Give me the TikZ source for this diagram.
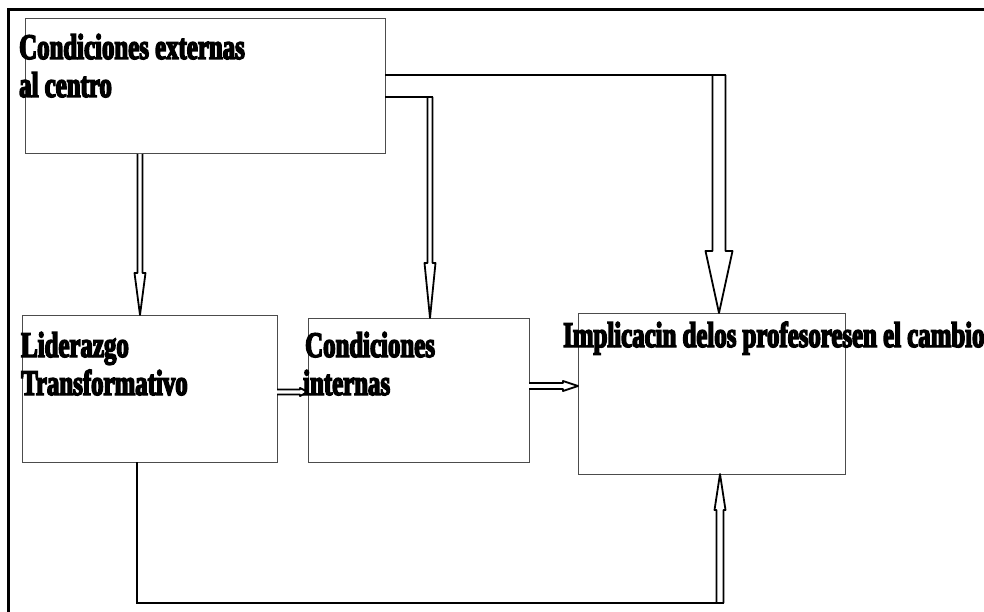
\documentclass[tikz,border=0pt]{standalone}
\usepackage{fontspec}
\newfontfamily\lbf{Liberation Serif}[UprightFont=* Bold, FakeStretch=0.69, FakeBold=4]
\usetikzlibrary{calc}
% block-arrow outlines, computed from named points
\newcommand\downarr[5]{\path[blk] let \p1=#1, \p2=#2 in
  (\x1-#3,\y1) -- (\x1-#3,\y2+#5) -- (\x1-#4,\y2+#5) -- (\x1,\y2) -- (\x1+#4,\y2+#5) -- (\x1+#3,\y2+#5) -- (\x1+#3,\y1);}
\newcommand\uparr[5]{\path[blk] let \p1=#1, \p2=#2 in
  (\x1-#3,\y1) -- (\x1-#3,\y2-#5) -- (\x1-#4,\y2-#5) -- (\x1,\y2) -- (\x1+#4,\y2-#5) -- (\x1+#3,\y2-#5) -- (\x1+#3,\y1);}
\newcommand\rightarr[5]{\path[blk] let \p1=#1, \p2=#2 in
  (\x1,\y1+#3) -- (\x2-#5,\y1+#3) -- (\x2-#5,\y1+#4) -- (\x2,\y1) -- (\x2-#5,\y1-#4) -- (\x2-#5,\y1-#3) -- (\x1,\y1-#3);}
\begin{document}
\begin{tikzpicture}[x=1pt,y=-1pt,
  box/.style={draw=black!70, line width=1pt, inner sep=0pt, outer sep=0pt, anchor=north west},
  lbl/.style={font=\lbf\fontsize{36}{39}\selectfont, inner sep=0pt, anchor=base west},
  conn/.style={draw=black, line width=2.5pt},
  blk/.style={draw=black, line width=1.8pt, line join=round, fill=white},
  frame/.style={draw=black, line width=3pt}]
\useasboundingbox (0,0) rectangle (984,612);
\draw[frame] (984,10) -- (8,10) -- (8,612);

% boxes
\node[box, minimum width=360pt, minimum height=135pt] (b1) at (25,19) {};
\node[box, minimum width=255pt, minimum height=147pt] (b2) at (22,315) {};
\node[box, minimum width=221pt, minimum height=144pt] (b3) at (308,318) {};
\node[box, minimum width=267pt, minimum height=161pt] (b4) at (578,313) {};

% guide coordinates
\coordinate (xa1) at (140,0);
\coordinate (xa2) at (430,0);
\coordinate (xa3) at (719,0);
\coordinate (xa6l) at (137,0);
\coordinate (xa6r) at (720,0);
\coordinate (ya2) at (0,97);
\coordinate (ya3) at (0,75);
\coordinate (ya4) at (0,392);
\coordinate (ya5) at (0,386);
\coordinate (ya6) at (0,603);

% Condiciones externas -> Liderazgo
\downarr{(b1.south -| xa1)}{(b2.north -| xa1)}{2.5pt}{5.5pt}{42pt}
% Condiciones externas -> Condiciones internas
\downarr{(ya2 -| xa2)}{(b3.north -| xa2)}{2.5pt}{5.5pt}{55pt}
\draw[conn] (b1.east |- ya2) -- ($(ya2 -| xa2)+(3.3,0)$);
% Condiciones externas -> Implicacion
\downarr{(ya3 -| xa3)}{(b4.north -| xa3)}{6.5pt}{13.5pt}{62pt}
\draw[conn] (b1.east |- ya3) -- ($(ya3 -| xa3)+(7.3,0)$);
% Liderazgo -> Condiciones internas
\rightarr{(b2.east |- ya4)}{(b3.west |- ya4)}{2.5pt}{4pt}{8pt}
% Condiciones internas -> Implicacion
\rightarr{(b3.east |- ya5)}{(b4.west |- ya5)}{3pt}{5pt}{15pt}
% Liderazgo -> Implicacion (loop below)
\uparr{(ya6 -| xa6r)}{(b4.south -| xa6r)}{3.5pt}{5.5pt}{36pt}
\draw[conn] (b2.south -| xa6l) -- (ya6 -| xa6l) -- ($(ya6 -| xa6r)+(4.3,0)$);

% texts
\node[lbl] (t1a) at (19,59) {Condiciones externas};
\node[lbl] (t1b) at (19,97) {al centro};
\node[lbl] (t2a) at (21,357) {Liderazgo};
\node[lbl] (t2b) at (21,395) {Transformativo};
\node[lbl] (t3a) at (305,357) {Condiciones};
\node[lbl] (t3b) at (303,395) {internas};
\node[lbl] (t4) at (563,347) {Implicacin delos profesoresen el cambio};
\end{tikzpicture}
\end{document}
